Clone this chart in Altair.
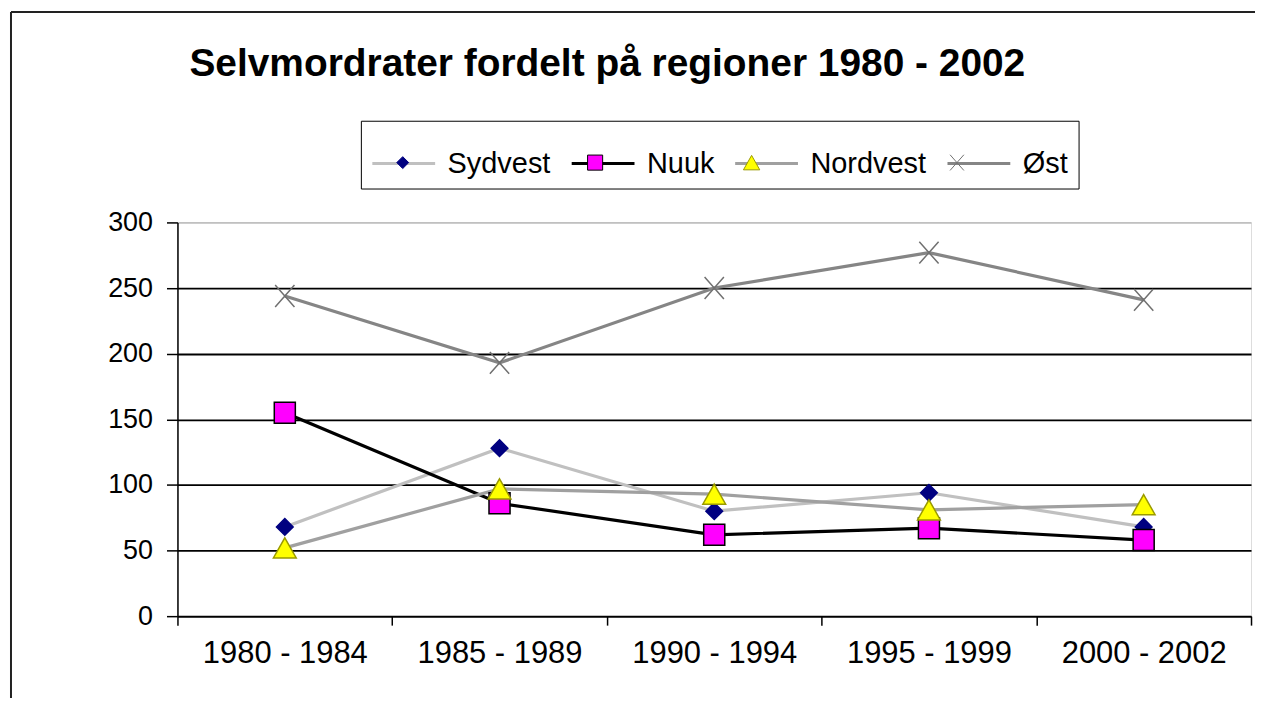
import altair as alt
import pandas as pd

# ---- data ----
periods = ["1980 - 1984", "1985 - 1989", "1990 - 1994", "1995 - 1999", "2000 - 2002"]
series_names = ["Sydvest", "Nuuk", "Nordvest", "Øst"]
sydvest = [68, 128, 80, 94, 68]
nuuk = [155, 86, 62, 67, 58]
nordvest = [52, 97, 93, 81, 85]
ost = [244, 193, 250, 277, 241]
y_ticks = [0, 50, 100, 150, 200, 250, 300]

# ---- styles ----
line_colors = ["#C0C0C0", "#000000", "#A0A0A0", "#858585"]
marker_fills = ["#000080", "#FF00FF", "#FFFF00", "#808080"]
marker_strokes = ["#000080", "#000000", "#9A9A00", "#707070"]
marker_shapes = [
    "M0,-0.19L0.19,0L0,0.19L-0.19,0Z",                      # diamond
    "M-0.24,-0.24L0.24,-0.24L0.24,0.24L-0.24,0.24Z",        # square
    "M0,-0.23L0.26,0.23L-0.26,0.23Z",                       # triangle
    "M-0.22,-0.25L0.22,0.25M-0.22,0.25L0.22,-0.25",         # x
]
FONT = "Liberation Sans"

rows = []
for name, vals in zip(series_names, [sydvest, nuuk, nordvest, ost]):
    for p, v in zip(periods, vals):
        rows.append({"period": p, "rate": v, "series": name, "marker": name})
df = pd.DataFrame(rows)

x_enc = alt.X(
    "period:N",
    sort=periods,
    scale=alt.Scale(type="band", paddingInner=0, paddingOuter=0),
    axis=alt.Axis(
        title=None, labelAngle=0, tickBand="extent", grid=False,
        labelFont=FONT, labelFontSize=31, labelColor="black", labelPadding=13,
        tickSize=9, tickColor="black", tickWidth=1.5,
        domainColor="black", domainWidth=1.5,
    ),
)
y_enc = alt.Y(
    "rate:Q",
    scale=alt.Scale(domain=[0, 300], nice=False),
    axis=alt.Axis(
        title=None, values=y_ticks, grid=True,
        gridColor=alt.condition("datum.value >= 300", alt.value("#C0C0C0"), alt.value("black")),
        gridWidth=1.8,
        labelFont=FONT, labelFontSize=27, labelColor="black", labelPadding=14,
        tickSize=11, tickColor="black", tickWidth=1.5,
        domainColor="black", domainWidth=1.5,
    ),
)

legend_common = dict(
    orient="none", legendX=184, legendY=-102, direction="horizontal", columns=4,
    title=None, labelFont=FONT, labelFontSize=29, labelOffset=11,
    columnPadding=14, padding=10, labelLimit=0,
)

lines = alt.Chart(df).mark_line(strokeWidth=3.2).encode(
    x=x_enc,
    y=y_enc,
    color=alt.Color(
        "series:N", sort=series_names,
        scale=alt.Scale(range=line_colors),
        legend=alt.Legend(
            symbolType="stroke", symbolSize=3969, symbolStrokeWidth=3,
            labelColor="black", strokeColor="black", **legend_common,
        ),
    ),
)

marker_legend = alt.Legend(
    symbolSize=3969, symbolStrokeWidth=1, symbolOpacity=1,
    labelColor="transparent", labelOpacity=0, **legend_common,
)
points = alt.Chart(df).mark_point(filled=True, size=7744, opacity=1, strokeWidth=1.5).encode(
    x=x_enc,
    y=y_enc,
    shape=alt.Shape("marker:N", scale=alt.Scale(domain=series_names, range=marker_shapes), legend=marker_legend),
    fill=alt.Fill("marker:N", scale=alt.Scale(domain=series_names, range=marker_fills), legend=marker_legend),
    stroke=alt.Stroke("marker:N", scale=alt.Scale(domain=series_names, range=marker_strokes), legend=marker_legend),
)

frame_data = alt.Data(values=[{"k": 1}])
left_border = alt.Chart(frame_data).mark_rule(color="#222222", strokeWidth=2).encode(
    x=alt.value(-167), y=alt.value(-211), y2=alt.value(560)
)
top_border = alt.Chart(frame_data).mark_rule(color="#222222", strokeWidth=2).encode(
    x=alt.value(-167), x2=alt.value(1100), y=alt.value(-211)
)

chart = alt.layer(left_border, top_border, lines, points).properties(
    width=1077,
    height=395,
    autosize=alt.AutoSizeParams(type="none"),
    padding={"left": 170, "top": 214, "right": 4, "bottom": 81},
    title=alt.TitleParams(
        "Selvmordrater fordelt på regioner 1980 - 2002",
        anchor="start", font=FONT, fontSize=39, fontWeight="bold", color="black",
        baseline="alphabetic", dx=180, offset=-104,
    ),
).configure_view(
    stroke="#C0C0C0", strokeWidth=1.5
).configure(background="white")

chart.save("out.html", embed_options={"renderer": "svg", "actions": False})
